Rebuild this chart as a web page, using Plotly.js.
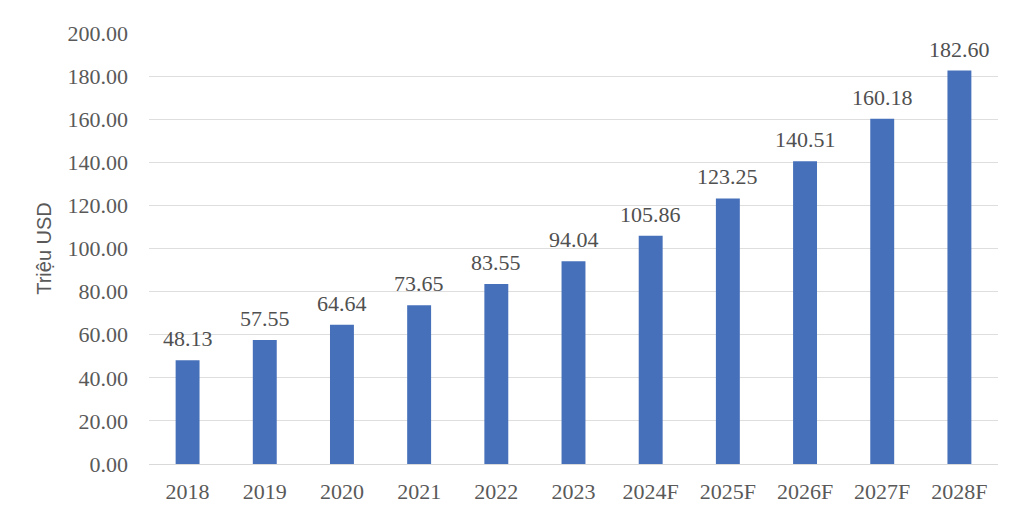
<!DOCTYPE html>
<html>
<head>
<meta charset="utf-8">
<script src="https://cdn.plot.ly/plotly-3.0.1.min.js"></script>
<style>
  html, body { margin: 0; padding: 0; background: #fff; }
  #chart { width: 1024px; height: 519px; }
</style>
</head>
<body>
<div id="chart"></div>
<script>
var years = ["2018", "2019", "2020", "2021", "2022", "2023", "2024F", "2025F", "2026F", "2027F", "2028F"];
var revenue = [48.13, 57.55, 64.64, 73.65, 83.55, 94.04, 105.86, 123.25, 140.51, 160.18, 182.60];

var serif = 'Liberation Serif, Times New Roman, serif';

var trace1 = {
  x: years,
  y: revenue,
  type: 'bar',
  marker: { color: '#4770BA' },
  hoverinfo: 'x+y'
};

// value labels above each bar (category axis -> use index position)
var labels = years.map(function (yr, i) {
  return {
    x: i,
    y: revenue[i],
    text: revenue[i].toFixed(2),
    showarrow: false,
    yanchor: 'bottom',
    yshift: 7,
    font: { family: serif, size: 22, color: '#505050' }
  };
});

var layout = {
  width: 1024,
  height: 519,
  margin: { l: 149, r: 26, t: 33, b: 55 },
  paper_bgcolor: '#fff',
  plot_bgcolor: '#fff',
  bargap: 0.69,
  showlegend: false,
  annotations: labels,
  xaxis: {
    type: 'category',
    showgrid: false,
    showline: true,
    linecolor: '#d9d9d9',
    ticks: '',
    ticklabelstandoff: 8,
    tickfont: { family: serif, size: 22, color: '#595959' }
  },
  yaxis: {
    range: [0, 200],
    dtick: 20,
    tickformat: '.2f',
    showline: false,
    zeroline: false,
    gridcolor: '#dedede',
    ticks: '',
    ticklabelstandoff: 20,
    tickfont: { family: serif, size: 22, color: '#595959' },
    title: {
      text: 'Triệu USD',
      standoff: 10,
      font: { family: 'Liberation Sans, Arial, sans-serif', size: 20, color: '#595959' }
    }
  }
};

Plotly.newPlot('chart', [trace1], layout, { displayModeBar: false, staticPlot: true });
</script>
</body>
</html>
